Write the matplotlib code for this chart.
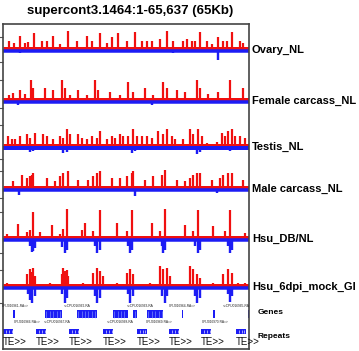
import matplotlib
matplotlib.use('Agg')
import matplotlib.pyplot as plt
from matplotlib.patches import Rectangle

plt.rcParams['font.family'] = ['Liberation Sans', 'DejaVu Sans']

title = 'supercont3.1464:1-65,637 (65Kb)'
region_kb = 65.637

track_names = ['Ovary_NL', 'Female carcass_NL', 'Testis_NL', 'Male carcass_NL',
               'Hsu_DB/NL', 'Hsu_6dpi_mock_GI']

# forward-strand (red) peaks: position in kb, height
ovary_pos = [1.6, 2.9, 4.5, 5.9, 6.7, 8.3, 10.4, 11.7, 13.3, 15.2, 17.3, 19.7, 22.4, 23.7,
             25.9, 27.7, 29.1, 30.7, 33.1, 35.2, 37.1, 38.4, 39.7, 41.9, 43.7, 45.3, 48.0,
             49.1, 50.4, 51.2, 52.5, 54.4, 55.7, 57.3, 58.7, 59.7, 61.1, 63.2, 64.0]
ovary_val = [8, 6, 13, 6, 7, 16, 8, 8, 13, 5, 18, 8, 13, 8,
             16, 6, 12, 16, 8, 17, 8, 8, 8, 10, 18, 8, 8,
             10, 8, 8, 17, 8, 5, 12, 8, 8, 17, 8, 6]
female_pos = [1.6, 2.7, 4.5, 5.9, 7.5, 8.0, 11.2, 13.3, 15.7, 16.5, 17.9, 20.0, 22.4, 24.5,
              25.3, 28.5, 31.2, 33.3, 34.7, 37.9, 40.0, 42.7, 43.7, 46.4, 48.5, 51.7, 52.5,
              54.7, 57.3, 60.5, 64.0]
female_val = [5, 7, 10, 6, 20, 12, 12, 10, 20, 12, 5, 10, 5, 20,
              10, 8, 5, 18, 8, 12, 5, 18, 12, 10, 8, 20, 12,
              6, 8, 20, 12]
testis_pos = [1.3, 2.4, 3.2, 4.5, 6.4, 7.2, 8.5, 10.7, 11.7, 13.3, 15.2, 16.0, 17.1, 17.9,
              20.0, 21.1, 22.4, 23.7, 25.1, 25.9, 27.7, 29.1, 29.9, 31.2, 32.0, 33.3, 34.7,
              35.7, 37.1, 38.4, 39.7, 41.3, 42.7, 43.7, 45.1, 45.9, 48.0, 49.9, 50.7, 52.0,
              53.1, 54.4, 57.1, 58.4, 59.2, 60.0, 61.1, 61.9, 63.2, 64.5]
testis_val = [10, 7, 7, 10, 12, 8, 13, 12, 10, 7, 10, 8, 17, 12,
              12, 8, 7, 10, 8, 15, 7, 10, 8, 12, 10, 10, 17,
              10, 10, 10, 8, 15, 12, 17, 10, 7, 7, 17, 12, 17,
              10, 3, 4, 13, 10, 15, 17, 10, 10, 8]
male_pos = [2.7, 5.1, 6.4, 7.2, 7.7, 8.0, 11.7, 13.9, 15.2, 16.0, 17.3, 20.0, 22.7, 24.0,
            25.1, 25.9, 29.1, 31.2, 33.1, 34.4, 34.7, 37.9, 40.0, 42.4, 43.2, 46.4, 48.5,
            49.9, 50.7, 51.7, 52.5, 55.7, 57.9, 58.7, 60.0, 61.1, 64.0]
male_val = [7, 13, 10, 12, 13, 15, 10, 7, 12, 15, 17, 8, 8, 12,
            15, 17, 10, 10, 12, 15, 17, 8, 12, 13, 18, 8, 7,
            10, 13, 15, 15, 8, 10, 13, 15, 15, 8]
db_pos = [1.1, 4.0, 6.4, 7.2, 8.0, 9.9, 13.1, 15.2, 16.0, 17.1, 21.1, 21.9, 24.0, 25.9,
          30.4, 33.1, 34.4, 39.7, 41.9, 43.2, 48.5, 50.7, 52.0, 56.0, 59.2, 60.5, 64.5]
db_val = [4, 14, 6, 8, 26, 6, 13, 4, 9, 29, 8, 15, 7, 28,
          15, 7, 28, 15, 7, 29, 13, 7, 28, 12, 7, 28, 5]
mock_pos = [1.1, 6.4, 7.2, 7.7, 8.0, 8.5, 12.5, 15.7, 16.0, 16.5, 17.1, 17.3, 21.3, 24.0,
            25.1, 25.9, 26.7, 30.4, 33.1, 33.9, 34.7, 39.2, 41.9, 42.7, 43.7, 44.5, 49.9,
            50.7, 51.7, 52.5, 56.0, 58.7, 60.0, 61.1, 62.7, 64.5]
mock_val = [3, 12, 17, 14, 18, 10, 3, 12, 18, 15, 16, 10, 3, 13,
            18, 15, 10, 3, 13, 17, 12, 3, 20, 17, 18, 10, 20,
            17, 12, 8, 3, 12, 17, 13, 3, 3]

# reverse-strand (blue) dips: position in kb, depth
ovary_rev_pos = [4.5, 11.2, 25.9, 35.2, 45.3, 57.3]
ovary_rev_val = [4, 2, 2, 2, 4, 11]
female_rev_pos = [4.0, 39.7]
female_rev_val = [5, 5]
testis_rev_pos = [7.2, 8.0, 8.5, 16.0, 17.1, 25.1, 34.4, 35.2, 43.2, 51.7, 52.5, 60.5]
testis_rev_val = [6, 5, 4, 7, 6, 4, 7, 5, 4, 8, 6, 5]
male_rev_pos = [4.3, 35.2, 57.1]
male_rev_val = [7, 8, 5]
db_rev_pos = [7.2, 7.7, 8.0, 8.5, 15.7, 16.5, 17.1, 24.5, 25.1, 25.9, 33.3, 33.9, 34.4,
              42.4, 42.7, 43.2, 51.2, 52.0, 52.5, 60.0, 60.5, 61.1]
db_rev_val = [8, 14, 13, 10, 9, 15, 12, 8, 15, 12, 8, 15, 12,
              8, 15, 12, 8, 15, 12, 8, 15, 12]
mock_rev_pos = [6.7, 7.2, 7.7, 8.5, 15.7, 16.5, 17.1, 24.5, 25.1, 25.9, 33.3, 33.9, 34.7,
                42.4, 43.2, 43.7, 51.2, 51.7, 52.5, 60.0, 60.5, 61.1]
mock_rev_val = [8, 14, 17, 10, 8, 17, 12, 10, 17, 12, 8, 17, 10,
                10, 17, 10, 10, 17, 12, 8, 16, 10]

fwd = [(ovary_pos, ovary_val), (female_pos, female_val), (testis_pos, testis_val),
       (male_pos, male_val), (db_pos, db_val), (mock_pos, mock_val)]
rev = [(ovary_rev_pos, ovary_rev_val), (female_rev_pos, female_rev_val),
       (testis_rev_pos, testis_rev_val), (male_rev_pos, male_rev_val),
       (db_rev_pos, db_rev_val), (mock_rev_pos, mock_rev_val)]

# genes: block start/end in kb
gene_start = [2.7, 11.2, 19.7, 29.3, 34.7, 38.4, 47.7, 56.0, 65.3]
gene_end = [3.2, 15.7, 25.1, 33.3, 35.7, 42.7, 48.0, 56.5, 65.6]
gene_top_x = [3.2, 19.7, 36.5, 47.8, 62.2]
gene_top_lab = ['CPIJ016961-RA=>', '<=CPIJ016962-RA', '<=CPIJ016963-RA',
                'CPIJ016964-RA=>', '<=CPIJ016965-RA']
gene_bot_x = [6.4, 14.4, 31.2, 41.6, 56.5]
gene_bot_lab = ['CPIJ016966-RA=>', '<=CPIJ016967-RA', '<=CPIJ016968-RA',
                'CPIJ016969-RA=>', 'CPIJ016970-RA=>']

repeat_start = [0.0, 8.8, 17.6, 26.7, 35.7, 44.3, 52.8, 62.1]
repeat_label = 'TE>>'

W, H = 359, 351
fig = plt.figure(figsize=(W / 100, H / 100), dpi=100)
ax = fig.add_axes([3 / W, 1 - 349 / H, 246 / W, 325 / H])
ax.set_xlim(0, region_kb)
ax.set_ylim(349, 24)

red = '#f01010'
blue = '#1c1cf5'
px = 0.72  # one pixel in points

baselines = [49, 100, 146, 188, 238, 286]
for i, (base, (p, v), (rp, rv)) in enumerate(zip(baselines, fwd, rev)):
    ax.hlines(base - 1.5, 0, region_kb, color=red, lw=3 * px)
    ax.vlines(p, base - 1, [base - h for h in v], color=red, lw=2.2 * px)
    band = 4 if i == 2 else 3.5
    ax.hlines(base + band / 2, 0, region_kb, color=blue, lw=band * px)
    ax.vlines(rp, base + 1, [base + d for d in rv], color=blue, lw=2.4 * px)

# genes track
for s, e in zip(gene_start, gene_end):
    ax.add_patch(Rectangle((s, 310), e - s, 8, color=blue, lw=0))
    k = s + 0.4
    while k < e - 0.2:
        ax.vlines(k, 310.5, 317.5, color='#9ab0ff', lw=0.5 * px)
        k += 0.9
for x, lab in zip(gene_top_x, gene_top_lab):
    ax.text(x, 306, lab, fontsize=2.3, ha='center', va='center', color='#222222')
for x, lab in zip(gene_bot_x, gene_bot_lab):
    ax.text(x, 322, lab, fontsize=2.3, ha='center', va='center', color='#222222')

# repeats track
for s in repeat_start:
    ax.add_patch(Rectangle((s + 0.1, 329), 2.6, 5, color=blue, lw=0))
    for k in (0.8, 1.5, 2.2):
        ax.vlines(s + 0.1 + k, 330, 333, color='white', lw=0.6 * px)
    ax.text(s, 342, repeat_label, fontsize=7, ha='left', va='center', color='#111111')

ax.set_xticks([])
ax.set_yticks([37, 62, 80, 108, 125, 159, 171, 198, 212, 253, 270, 303])
ax.set_yticklabels([])
ax.tick_params(axis='y', direction='out', length=3, width=0.8, color='#555555')
for sp in ax.spines.values():
    sp.set_color('#444444')
    sp.set_linewidth(1.2)

for name, base in zip(track_names, baselines):
    ax.annotate(name, (1.012, base + 1), xycoords=('axes fraction', 'data'),
                fontsize=8, fontweight='bold', va='center', ha='left', annotation_clip=False)
ax.annotate('Genes', (1.035, 313), xycoords=('axes fraction', 'data'),
            fontsize=6, fontweight='bold', va='center', ha='left', annotation_clip=False)
ax.annotate('Repeats', (1.035, 337), xycoords=('axes fraction', 'data'),
            fontsize=6, fontweight='bold', va='center', ha='left', annotation_clip=False)

fig.text(130 / W, 1 - 11 / H, title, fontsize=9.5, fontweight='bold',
         ha='center', va='center')

fig.savefig('out.png', dpi=100)
